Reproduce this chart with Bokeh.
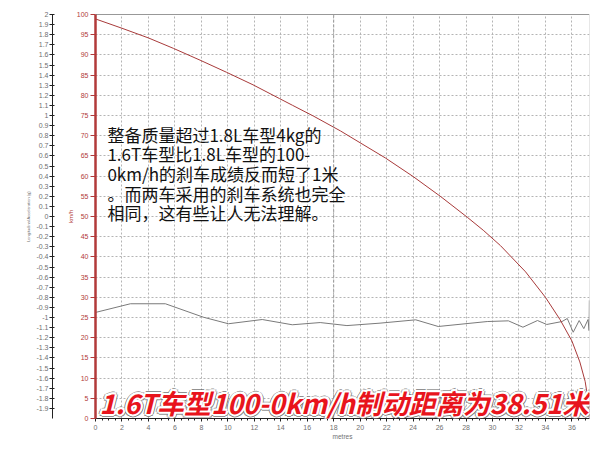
from bokeh.plotting import figure
from bokeh.models import (Range1d, LinearAxis, FixedTicker, CustomJSTickFormatter,
                          Label, Span)
from bokeh.embed import file_html
from bokeh.resources import INLINE

# ---- data ----
dist_speed = [0, 2.0, 4.0, 5.9, 7.9, 9.9, 11.9, 13.9, 14.9, 16.5, 18.5, 21.9, 24.0,
              26.1, 28.1, 29.3, 30.6, 32.5, 34.0, 35.1, 36.0, 36.6, 37.0, 37.26, 37.33]
speed_kmh = [98.9, 96.6, 94.2, 91.6, 88.7, 85.7, 82.6, 79.2, 77.5, 74.8, 71.2, 64.5, 59.9,
             54.9, 49.8, 46.6, 42.8, 36.3, 30.0, 24.5, 19.2, 14.0, 9.2, 3.8, 0.0]

dist_accel = [0, 2.64, 5.28, 8.15, 10.04, 12.6, 14.87, 16.98, 19.0, 21.5, 24.2, 25.9,
              29.6, 31.2, 32.3, 33.4, 34.1, 35.25, 35.65, 36.1, 36.55, 36.9, 37.22,
              37.3, 37.32]
accel_g = [-0.95, -0.864, -0.864, -0.997, -1.062, -1.02, -1.072, -1.05, -1.08, -1.056,
           -1.023, -1.089, -1.04, -1.033, -1.096, -1.03, -1.069, -1.04, -1.01, -1.146,
           -1.03, -1.11, -1.02, -1.13, -0.83]

x_ticks = list(range(0, 37, 2))
x_minor = [i * 0.5 for i in range(75)]
kmh_ticks = list(range(0, 101, 5))
g_ticks = [round(-1.9 + 0.1 * i, 1) for i in range(40)]

note_lines = ["整备质量超过1.8L车型4kg的",
              "1.6T车型比1.8L车型的100-",
              "0km/h的刹车成绩反而短了1米",
              "。而两车采用的刹车系统也完全",
              "相同，这有些让人无法理解。"]
headline = "1.6T车型100-0km/h制动距离为38.51米"

RED_AXIS = "#b23a3a"
RED_LINE = "#a83a3a"
GRAY_TXT = "#707070"

p = figure(width=608, height=455, output_backend="svg", toolbar_location=None,
           x_range=Range1d(0, 37.33), y_range=Range1d(0, 100),
           frame_width=494, frame_height=404,
           min_border_left=95, min_border_right=19, min_border_top=14, min_border_bottom=37,
           background_fill_color="white", border_fill_color="white")
p.outline_line_color = None

# grid
p.xgrid.ticker = FixedTicker(ticks=x_ticks)
p.ygrid.ticker = FixedTicker(ticks=kmh_ticks)
for g in (p.xgrid, p.ygrid):
    g.grid_line_color = "#b4b4b4"
    g.grid_line_dash = "2 2"
    g.grid_line_width = 1

# x axis
xa = p.xaxis[0]
xa.ticker = FixedTicker(ticks=x_ticks, minor_ticks=x_minor)
xa.axis_label = "metres"
xa.axis_label_text_font = "Liberation Sans"
xa.axis_label_text_font_style = "normal"
xa.axis_label_text_font_size = "6.5px"
xa.axis_label_text_color = GRAY_TXT
xa.axis_label_standoff = 0
xa.major_label_text_font = "Liberation Sans"
xa.major_label_text_font_size = "7px"
xa.major_label_text_color = GRAY_TXT
xa.major_label_standoff = 3
xa.major_tick_in = 0
xa.major_tick_out = 3
xa.minor_tick_in = 0
xa.minor_tick_out = 2
xa.axis_line_color = "#222"
xa.major_tick_line_color = "#222"
xa.minor_tick_line_color = "#222"

# red km/h axis (primary left)
ya = p.yaxis[0]
ya.ticker = FixedTicker(ticks=kmh_ticks)
ya.axis_label = "km/h"
ya.axis_label_text_font = "Liberation Sans"
ya.axis_label_text_font_style = "normal"
ya.axis_label_text_font_size = "6px"
ya.axis_label_text_color = RED_AXIS
ya.axis_label_standoff = 0
ya.major_label_text_font = "Liberation Sans"
ya.major_label_text_font_size = "7px"
ya.major_label_text_color = RED_AXIS
ya.major_label_standoff = 2
ya.major_tick_in = 0
ya.major_tick_out = 5
ya.minor_tick_line_color = None
ya.axis_line_color = RED_AXIS
ya.axis_line_width = 2.5
ya.major_tick_line_color = RED_AXIS

# spacer axis between the two left axes (one invisible tick gives it its width)
p.extra_y_ranges = {"g": Range1d(-2, 2)}
spacer = LinearAxis(y_range_name="g", ticker=FixedTicker(ticks=[0], minor_ticks=[]),
                    formatter=CustomJSTickFormatter(code="return '';"),
                    axis_line_color=None, major_tick_line_color=None,
                    minor_tick_line_color=None, major_tick_out=12, major_tick_in=0,
                    major_label_standoff=0)
p.add_layout(spacer, "left")

# acceleration axis
ga = LinearAxis(y_range_name="g", ticker=FixedTicker(ticks=g_ticks),
                formatter=CustomJSTickFormatter(code="""
                    return Math.abs(tick - Math.round(tick)) < 1e-6 ?
                        String(Math.round(tick)) : tick.toFixed(1);"""))
ga.axis_label = "Longitudinal Acceleration (g)"
ga.axis_label_text_font = "Liberation Sans"
ga.axis_label_text_font_style = "normal"
ga.axis_label_text_font_size = "4px"
ga.axis_label_text_color = GRAY_TXT
ga.axis_label_standoff = 2
ga.major_label_text_font = "Liberation Sans"
ga.major_label_text_font_size = "7px"
ga.major_label_text_color = GRAY_TXT
ga.major_label_standoff = 1
ga.major_tick_in = 2
ga.major_tick_out = 3
ga.minor_tick_line_color = None
ga.axis_line_color = "#222"
ga.major_tick_line_color = "#222"
p.add_layout(ga, "left")

# frame borders
p.add_layout(Span(location=100, dimension="width", line_color="#333", line_width=1))
p.add_layout(Span(location=37.33, dimension="height", line_color="#cfcfcf", line_width=1))
p.add_layout(Span(location=18, dimension="height", line_color="#9a9a9a",
                  line_width=1, line_dash="3 2"))

# data lines
p.line(dist_accel, accel_g, y_range_name="g", line_color="#7a7a7a", line_width=1)
p.line(dist_speed, speed_kmh, line_color=RED_LINE, line_width=1)

# annotation text
line_y = [70.4, 65.5, 60.6, 55.8, 51.1]
for txt, yy in zip(note_lines, line_y):
    p.add_layout(Label(x=0.9, y=yy, text=txt, text_font="Noto Sans CJK SC",
                       text_font_size="17px", text_color="#111111",
                       text_baseline="middle", text_align="left"))

# headline with dark edge and white halo
halo_dirs = [(1, 0), (-1, 0), (0, 1), (0, -1), (0.7, 0.7), (-0.7, 0.7), (0.7, -0.7), (-0.7, -0.7)]
for rad, col, alpha in [(3.2, "#606060", 0.7), (2.2, "white", 1.0)]:
    for dx, dy in halo_dirs:
        p.add_layout(Label(x=0.3, y=4.0, x_offset=dx * rad, y_offset=dy * rad,
                           text=headline, text_font="Noto Sans CJK SC",
                           text_font_size="27px", text_font_style="bold italic",
                           text_color=col, text_alpha=alpha,
                           text_baseline="middle", text_align="left"))
p.add_layout(Label(x=0.3, y=4.0, text=headline, text_font="Noto Sans CJK SC",
                   text_font_size="27px", text_font_style="bold italic",
                   text_color="#e8141c", text_baseline="middle", text_align="left"))

open("out.html", "w").write(file_html(p, INLINE))
